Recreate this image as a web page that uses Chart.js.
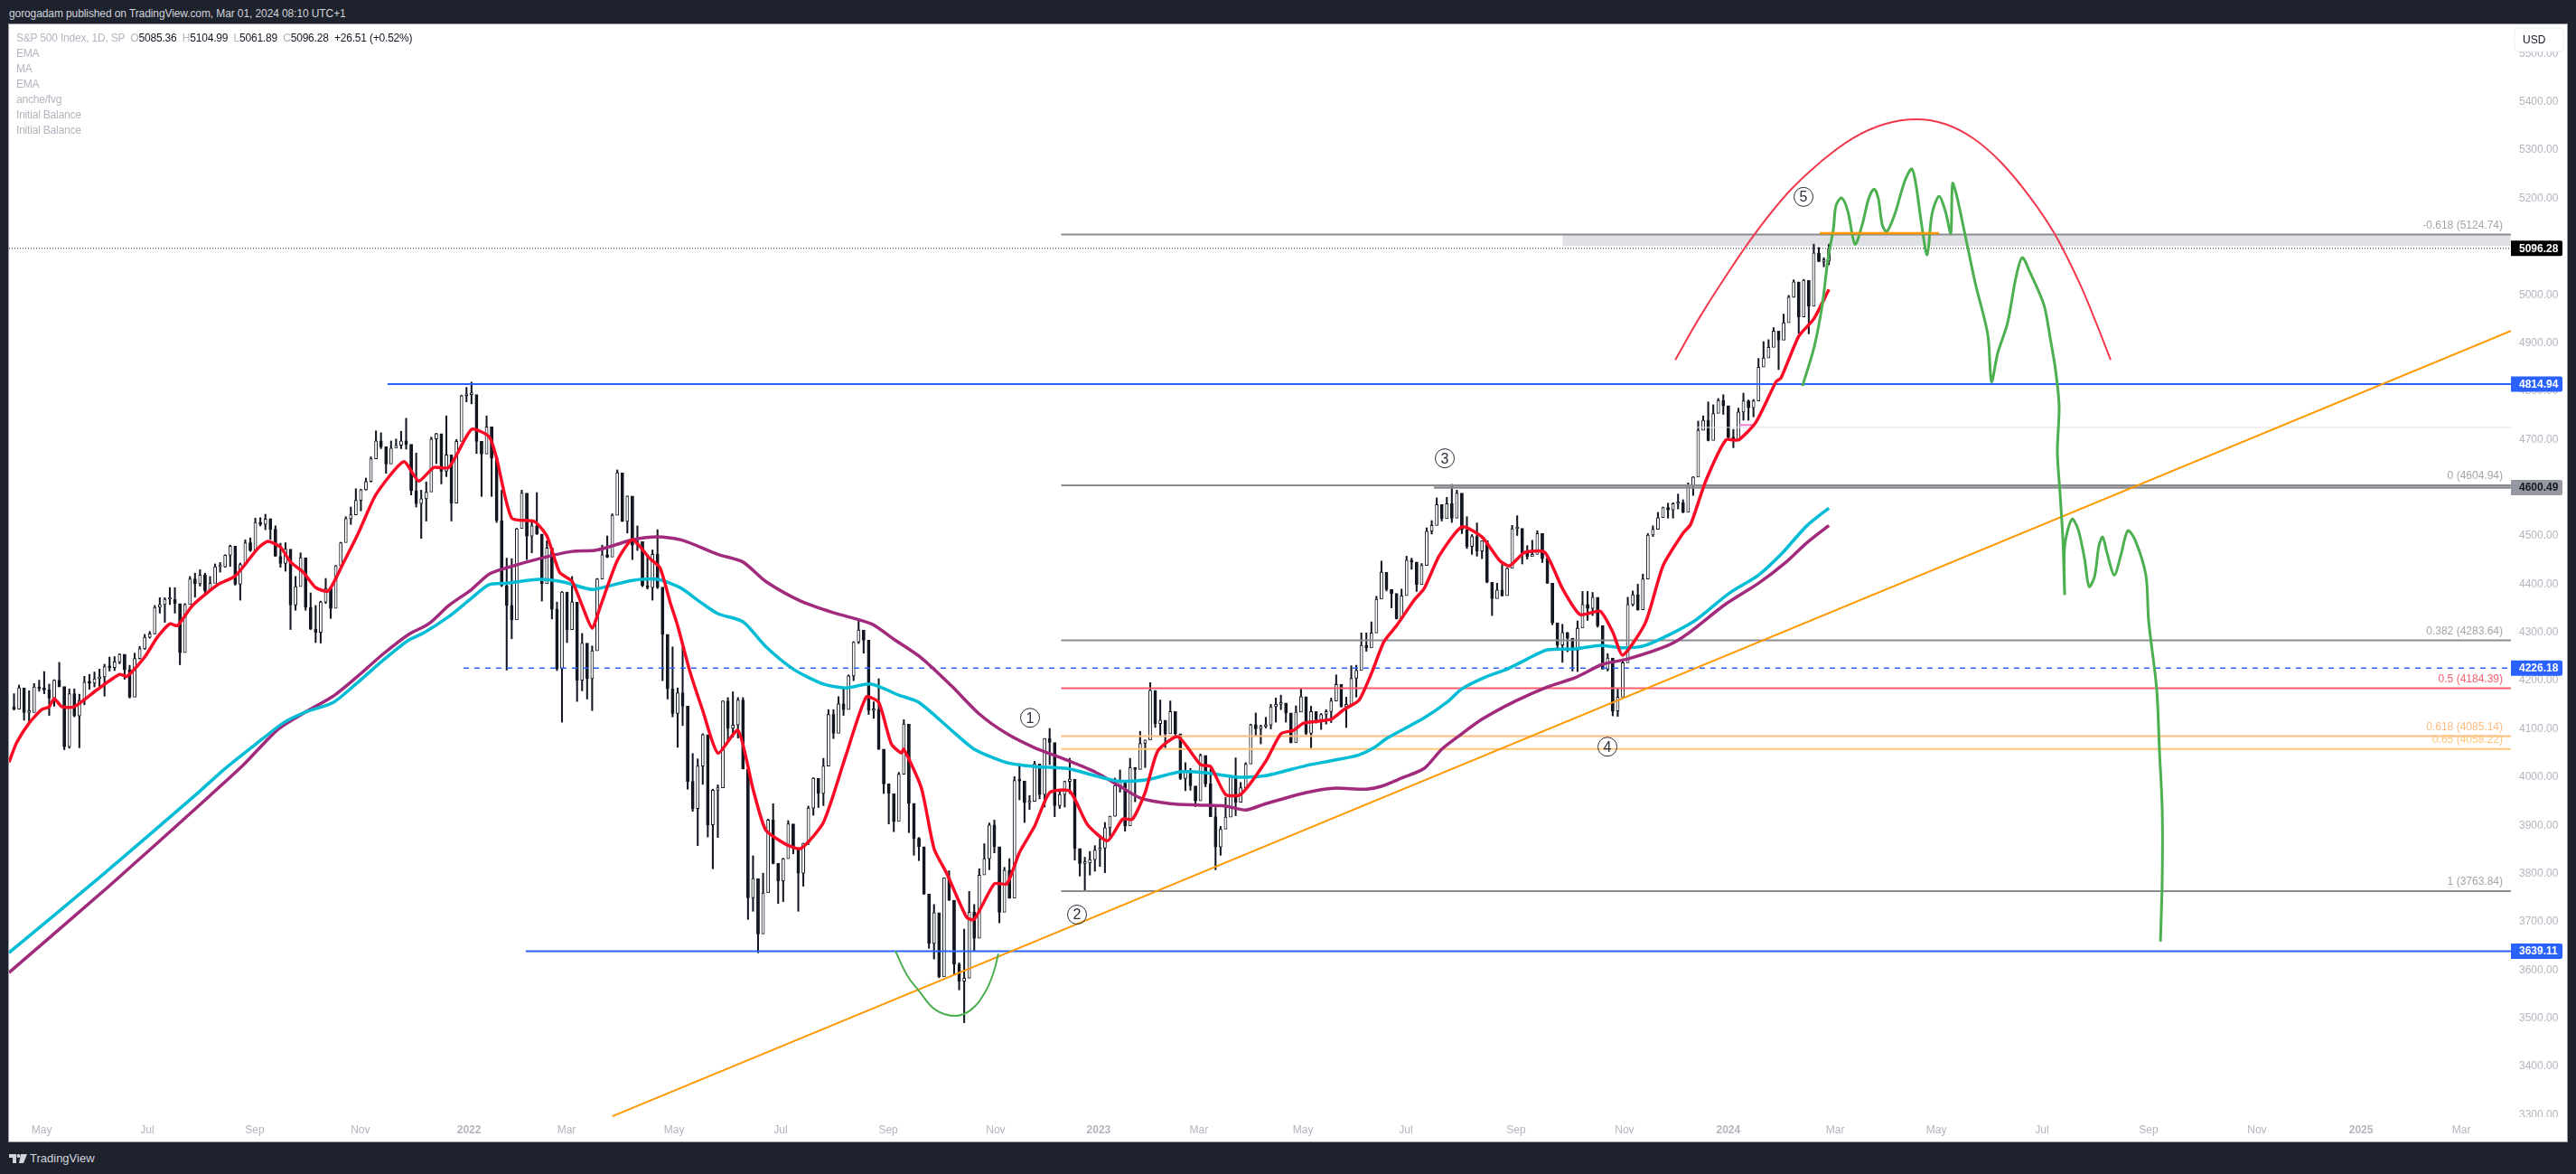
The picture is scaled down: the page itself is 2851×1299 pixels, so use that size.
<!DOCTYPE html>
<html>
<head>
<meta charset="utf-8">
<title>S&amp;P 500 Index, 1D</title>
<script src="https://cdn.jsdelivr.net/npm/chart.js@4/dist/chart.umd.min.js"></script>
<style>
html, body { margin: 0; padding: 0; background: #1e222d; overflow: hidden; }
body { width: 2851px; height: 1299px; position: relative; font-family: "Liberation Sans", sans-serif; }
#head { position: absolute; left: 10px; top: 8px; font-size: 12px; line-height: 14px; color: #d1d4dc; letter-spacing: -.1px; white-space: pre; }
#frame { position: absolute; left: 10px; top: 27px; width: 2831px; height: 1236px; background: #fff; outline: 1px solid #9598a1; }
#legend { position: absolute; left: 18px; top: 34px; font-size: 12px; line-height: 17px; color: #b2b5be; letter-spacing: -.2px; white-space: pre; }
#legend b { font-weight: normal; color: #131722; }
#foot { position: absolute; left: 10px; top: 1275px; height: 14px; color: #d1d4dc; font-size: 13px; line-height: 14px; }
#foot svg { position: absolute; left: 0; top: 2px; }
#foot span { position: absolute; left: 23px; top: 0; }
</style>
</head>
<body>
<div id="head">gorogadam published on TradingView.com, Mar 01, 2024 08:10 UTC+1</div>
<div id="frame"><canvas id="chart" width="2831" height="1236"></canvas></div>
<div id="legend">S&amp;P 500 Index, 1D, SP  O<b>5085.36</b>  H<b>5104.99</b>  L<b>5061.89</b>  C<b>5096.28</b>  <b>+26.51 (+0.52%)</b>
EMA
MA
EMA
anche/fvg
Initial Balance
Initial Balance</div>
<div id="foot"><svg width="20" height="10" viewBox="0 0 20 10"><path d="M0 0h8v10H4V4H0z M13 0h7l-4 10h-5z" fill="#d1d4dc"/><circle cx="10.5" cy="2" r="2" fill="#d1d4dc"/></svg><span>TradingView</span></div>

<script>
// x values are sessions counted from the first session of 2021
const xTickValues = [82,124,166.8,208.8,252,290.8,333.6,376,418.8,461.5,502.5,542.4,583.8,624.7,668.6,711.7,753,795.5,835.8,877.8,920.2,963.3,1004.7,1044.6];
const xTickLabels = ["May","Jul","Sep","Nov","2022","Mar","May","Jul","Sep","Nov","2023","Mar","May","Jul","Sep","Nov","2024","Mar","May","Jul","Sep","Nov","2025","Mar"];
const yTickValues = [5500,5400,5300,5200,5100,5000,4900,4800,4700,4600,4500,4400,4300,4200,4100,4000,3900,3800,3700,3600,3500,3400,3300];

// candles, one for every second session: high, low, close
const bars2021 = [
[4173,4139,4141],[4191,4142,4185],[4180,4118,4134],[4179,4115,4134],[4194,4147,4187],[4201,4178,4183],[4219,4173,4181],[4193,4128,4164],[4202,4147,4201],[4238,4187,4188],
[4185,4057,4063],[4183,4060,4173],[4183,4125,4127],[4172,4061,4159],[4209,4150,4197],[4213,4182,4195],[4218,4187,4204],[4224,4187,4208],[4234,4168,4229],[4249,4220,4227],
[4250,4221,4239],[4256,4235,4255],[4252,4203,4223],[4232,4164,4166],[4257,4168,4246],[4271,4245,4266],[4296,4265,4290],[4302,4288,4297],[4356,4297,4352],[4372,4340,4358],
[4372,4321,4369],[4393,4358,4369],[4393,4340,4360],[4330,4233,4258],[4360,4265,4358],[4416,4360,4411],[4423,4373,4401],[4430,4396,4419],[4423,4381,4387],[4416,4400,4402],
[4442,4405,4436],[4445,4425,4436],[4461,4435,4460],[4481,4437,4479],[4478,4398,4400],[4444,4367,4441],[4492,4440,4486],[4496,4468,4470],[4537,4474,4528],[4538,4521,4524],
[4545,4513,4535],[4536,4493,4514],[4521,4458,4458],[4485,4435,4443],[4486,4427,4473],[4427,4306,4357],[4416,4346,4395],[4465,4406,4455],[4445,4346,4352],[4382,4306,4307],
[4356,4279,4300],[4365,4278,4363],[4412,4360,4391],[4375,4329,4350],[4439,4364,4438],[4487,4447,4486],[4540,4489,4536],[4560,4524,4544],[4598,4550,4574],[4597,4552,4596],
[4620,4595,4613],[4664,4612,4660],[4718,4662,4697],[4714,4681,4685],[4668,4630,4649],[4697,4660,4682],[4701,4684,4688],[4717,4681,4697],[4744,4680,4690],[4686,4585,4594],
[4672,4560,4567],[4595,4495,4577],[4612,4531,4591],[4705,4608,4701],[4713,4650,4712],[4690,4608,4634],[4749,4623,4668],[4617,4531,4568],[4700,4592,4696],[4792,4725,4791],
[4808,4778,4793]
];
const bars2022 = [
[4819,4774,4793],[4725,4671,4696],[4673,4582,4670],[4749,4700,4726],[4667,4582,4662],[4603,4528,4532],[4595,4395,4397],[4454,4222,4356],[4453,4287,4326],[4516,4373,4515],
[4595,4544,4589],[4540,4451,4500],[4531,4465,4521],[4590,4503,4504],[4489,4365,4401],[4490,4429,4475],[4395,4328,4348],[4363,4221,4225],[4385,4114,4384],[4375,4279,4306],
[4416,4345,4363],[4329,4157,4201],[4298,4179,4278],[4259,4162,4204],[4272,4138,4262],[4412,4330,4411],[4481,4424,4461],[4500,4455,4456],[4546,4483,4543],[4637,4567,4631],
[4603,4530,4530],[4583,4506,4583],[4512,4451,4481],[4521,4470,4488],[4471,4395,4397],[4460,4390,4393],[4471,4367,4462],[4513,4391,4394],[4296,4200,4296],[4240,4162,4183],
[4270,4125,4132],[4185,4062,4175],[4270,4107,4147],[4082,3975,3991],[4049,3929,3935],[4038,3858,4023],[4090,3985,4088],[3945,3876,3901],[3975,3810,3973],[3984,3875,3978],
[4158,4018,4158],[4165,4073,4101],[4177,4083,4108],[4165,4081,4160],[4165,4017,4017],[3838,3705,3750],[3837,3722,3790],[3708,3636,3675],[3801,3705,3760],[3913,3810,3911],
[3945,3820,3821],[3818,3738,3785],[3832,3742,3831],[3910,3845,3903],[3890,3841,3854],[3838,3722,3801],[3863,3774,3863],[3940,3860,3936],[3999,3921,3998],[3975,3937,3966],
[4039,3941,4023],[4140,4079,4130],[4140,4080,4091],[4167,4128,4152],[4186,4128,4140],[4212,4142,4210],[4281,4200,4280],[4325,4277,4305],[4302,4257,4284],[4196,4130,4138],
[4156,4122,4140],[4204,4057,4058],[4043,3966,3986],[3980,3903,3966],[3940,3887,3908],[4010,3930,4006],[4119,4083,4110],[3986,3885,3946],[3916,3838,3873],[3875,3827,3856],
[3853,3757,3758],[3715,3645,3655],[3736,3623,3719],[3700,3584,3586],[3791,3647,3791],[3806,3744,3745],[3667,3590,3612],[3615,3559,3577],[3685,3491,3583],[3763,3648,3720],
[3736,3640,3666],[3810,3700,3797],[3862,3810,3831],[3905,3808,3901],[3911,3843,3856],[3751,3698,3720],[3813,3751,3807],[3831,3749,3749],[4001,3944,3993],[4028,3953,3992],
[3967,3906,3947],[3962,3933,3950],[4033,3998,4028],[4012,3955,3964],[4080,3938,4080],[4101,4026,4072],[4001,3918,3941],[3974,3935,3964],[3992,3938,3991],[4039,3966,3996],
[3890,3828,3852],[3839,3795,3821],[3834,3764,3822],[3846,3797,3829],[3858,3805,3849]
];
const bars2023 = [
[3873,3815,3853],[3906,3802,3895],[3919,3877,3919],[3998,3919,3983],[4015,3969,3990],[3941,3888,3899],[4039,3972,4020],[4020,3949,4016],[4095,4017,4070],[4077,4020,4077],
[4196,4108,4180],[4150,4103,4111],[4160,4086,4118],[4095,4061,4090],[4158,4096,4136],[4136,4086,4090],[4050,3995,3997],[4030,3972,4012],[4018,3973,3982],[3972,3939,3951],
[4048,3975,4045],[4040,3980,3986],[4017,3918,3918],[3937,3808,3855],[3898,3838,3892],[3958,3901,3917],[4002,3943,4002],[4040,3920,3948],[3989,3950,3978],[4030,3999,4027],
[4110,4056,4109],[4133,4087,4100],[4108,4069,4105],[4124,4102,4108],[4151,4100,4146],[4164,4114,4151],[4170,4140,4154],[4138,4114,4133],[4118,4071,4071],[4148,4087,4135],
[4184,4162,4167],[4149,4088,4091],[4147,4061,4136],[4130,4112,4119],[4132,4099,4130],[4140,4110,4136],[4164,4113,4158],[4212,4176,4192],[4186,4145,4146],[4166,4103,4151],
[4231,4192,4205],[4232,4166,4221],[4299,4263,4273],[4299,4261,4268],[4322,4292,4299],[4375,4349,4369],[4448,4371,4425],[4421,4386,4389],[4382,4351,4381],[4362,4328,4328],
[4390,4360,4376],[4458,4414,4450],[4454,4431,4446],[4440,4385,4399],[4443,4408,4439],[4517,4489,4510],[4532,4504,4522],[4579,4557,4565],[4555,4531,4536],[4580,4553,4567],
[4607,4528,4537],[4595,4574,4589],[4551,4505,4513],[4540,4474,4478],[4503,4462,4499],[4527,4458,4469],[4490,4453,4490],[4449,4403,4404],[4381,4335,4370],[4402,4382,4388],
[4441,4375,4376],[4434,4407,4433],[4522,4479,4515],[4542,4501,4516],[4491,4442,4465],[4480,4452,4457],[4491,4461,4462],[4511,4478,4505],[4467,4445,4453],[4461,4402,4402],
[4357,4316,4320],[4315,4263,4274],[4317,4238,4300],[4300,4260,4288],[4264,4220,4263],[4324,4219,4309],[4385,4339,4358],[4385,4325,4350],[4383,4335,4373],[4367,4311,4314],
[4270,4224,4224],[4256,4220,4247],[4182,4127,4137],[4183,4126,4166],[4245,4187,4237],[4373,4317,4358],[4386,4355,4378],[4400,4346,4347],[4421,4394,4411],[4505,4483,4502],
[4521,4499,4514],[4549,4527,4538],[4560,4552,4559],[4568,4537,4554],[4569,4537,4567],[4587,4556,4569],[4575,4548,4549],[4610,4574,4604],[4623,4584,4622],[4738,4705,4719],
[4749,4725,4740],[4778,4697,4698],[4772,4736,4754],[4785,4765,4781],[4793,4752,4770]
];
const bars2024 = [
[4729,4699,4705],[4721,4683,4697],[4765,4730,4757],[4796,4740,4780],[4782,4740,4766],[4783,4747,4780],[4868,4840,4850],[4903,4865,4869],[4907,4881,4891],[4932,4917,4925],
[4907,4845,4906],[4960,4918,4942],[4999,4958,4995],[5031,4995,5027],[4970,4920,4954],[5032,4999,5030],[4998,4919,4976],[5105,5040,5087],[5098,5069,5069],[5077,5058,5070],
[5105,5062,5096]
];
const firstOpen = 4146;
const lastBarX = 793;

// moving averages: [session, price]
const emaRed = [[69,4031],[72,4071],[77,4112],[82,4140],[85,4146],[87,4163],[90,4146],[95,4146],[104,4181],[113,4213],[116,4209],[123,4249],[128,4290],[133,4318],[136,4314],[142,4356],[152,4399],[159,4417],[168,4474],[172,4489],[177,4477],[181,4446],[186,4425],[191,4393],[196,4386],[202,4444],[208,4506],[215,4586],[226,4654],[232,4614],[238,4642],[244,4642],[253,4721],[260,4706],[263,4661],[269,4537],[278,4530],[283,4500],[288,4425],[293,4406],[297,4356],[301,4309],[304,4350],[311,4449],[317,4492],[324,4453],[328,4434],[332,4363],[335,4314],[340,4217],[345,4138],[351,4050],[359,4097],[365,3975],[370,3891],[378,3861],[384,3852],[393,3906],[402,4046],[410,4166],[415,4155],[420,4069],[424,4050],[425,4058],[432,3977],[437,3852],[442,3801],[450,3709],[453,3705],[461,3779],[466,3779],[471,3844],[477,3898],[483,3968],[491,3971],[498,3902],[506,3868],[512,3913],[516,3913],[521,3968],[526,4054],[534,4084],[543,4026],[547,4022],[553,3964],[559,3964],[569,4033],[575,4090],[580,4097],[584,4112],[595,4120],[600,4140],[606,4159],[611,4215],[616,4281],[621,4314],[628,4367],[632,4391],[638,4459],[647,4519],[655,4498],[662,4449],[666,4438],[672,4466],[680,4466],[687,4391],[694,4337],[702,4344],[707,4301],[711,4253],[720,4320],[727,4438],[735,4506],[738,4524],[744,4614],[752,4699],[757,4699],[764,4736],[772,4820],[774,4828],[781,4914],[787,4950],[793,5011]];
const maCyan = [[69,3636],[105,3792],[143,3962],[155,4018],[170,4080],[178,4112],[187,4135],[198,4155],[207,4193],[218,4243],[228,4284],[234,4299],[244,4333],[253,4371],[260,4399],[267,4402],[280,4410],[290,4404],[301,4389],[308,4397],[317,4408],[327,4410],[336,4393],[344,4363],[351,4339],[361,4322],[370,4271],[381,4224],[393,4193],[402,4185],[412,4193],[423,4170],[431,4155],[444,4097],[453,4058],[466,4030],[477,4022],[490,4018],[501,4003],[510,3992],[521,3994],[535,4011],[545,4009],[558,4000],[569,4003],[585,4024],[596,4035],[606,4046],[612,4061],[617,4080],[632,4123],[641,4155],[647,4183],[657,4209],[665,4224],[673,4245],[681,4264],[692,4266],[702,4273],[711,4268],[720,4273],[739,4322],[753,4380],[765,4419],[774,4462],[784,4520],[793,4558]];
const emaPurple = [[69,3595],[109,3775],[149,3962],[162,4024],[176,4099],[187,4135],[198,4168],[207,4206],[218,4256],[228,4296],[236,4318],[244,4356],[253,4389],[260,4421],[267,4434],[280,4453],[293,4468],[302,4470],[310,4481],[317,4492],[327,4498],[337,4491],[351,4462],[361,4446],[370,4406],[384,4365],[397,4341],[412,4318],[421,4286],[432,4247],[444,4189],[455,4131],[466,4090],[477,4061],[490,4035],[501,4011],[511,3981],[519,3957],[531,3945],[542,3942],[553,3940],[561,3932],[569,3945],[585,3968],[596,3977],[609,3975],[615,3981],[623,3998],[632,4018],[639,4058],[647,4090],[655,4120],[668,4157],[681,4187],[692,4206],[703,4234],[713,4245],[729,4273],[737,4298],[752,4359],[765,4402],[776,4446],[784,4485],[793,4522]];

// hand drawn lines
const forecastGreen = [[782.5,4811],[787.2,4893],[790.4,4980],[792.6,5073],[794.8,5137],[795.8,5184],[798,5201],[800.5,5174],[803.4,5105],[806.3,5146],[808.8,5199],[811,5219],[812.7,5199],[814.2,5146],[816,5131],[819.2,5167],[823.2,5236],[826,5261],[827.8,5223],[829.6,5156],[832.1,5083],[834,5167],[836.8,5204],[839.3,5174],[841.5,5128],[842.2,5231],[844,5202],[847.2,5124],[851.2,5025],[856.2,4918],[857.7,4820],[860.2,4880],[864.1,4942],[867.4,5036],[869.9,5077],[872.8,5049],[878.5,4980],[881,4912],[883.2,4843],[884.6,4768],[883.9,4674],[885,4586],[886.1,4492],[886.8,4380],[886.8,4479],[889.7,4535],[892.2,4513],[894.7,4453],[896.5,4395],[898.7,4416],[900.4,4479],[901.9,4498],[903.6,4466],[906.5,4419],[909.1,4459],[911.9,4511],[914.8,4492],[919.1,4419],[920.2,4324],[923.4,4183],[924.5,4056],[925.6,3934],[925.6,3786],[924.9,3659]];
const arcRed = [[731.9,4865],[741.2,4950],[750.9,5030],[763.8,5128],[776.8,5212],[789.4,5274],[802.3,5324],[815.2,5354],[827.8,5364],[839.3,5354],[850.5,5324],[861.6,5274],[872.8,5204],[882.5,5129],[892.2,5030],[898.7,4950],[905.1,4865]];
const arcGreen = [[421.6,3640],[426.3,3589],[431,3557],[437.5,3518],[445.4,3505],[451.8,3518],[457.6,3557],[460.8,3597],[462.6,3634]];
const trendOrange = [[309,3297],[1064.3,4925]];
const topOrange = [[789.4,5128],[836.8,5128]];
const pinkLevel = [[757.4,4730],[763.8,4730]];
const greyLevel = [[740.1,4725],[1064.3,4725]];
const greyZone = [[687,5124.74],[1064.3,5124.74]];
const greyZoneLow = 5101;

// levels with an end label on the price axis
const blueHigh = 4814.94, blueLow = 3639.11, blueDash = 4226.18, greyPrice = 4600.49, lastPrice = 5096.28;
const blueHighFrom = 219.6, blueLowFrom = 274.6, blueDashFrom = 249.8, greyPriceFrom = 635.9;

// fib retracement
const fibFrom = 487.6, fibTo = 1064.3;
const fibLevels = ["-0.618","0","0.382","0.5","0.618","0.65","1"];
const fibPrices = [5124.74,4604.94,4283.64,4184.39,4085.14,4058.22,3763.84];
const fibColors = ["#8a8b8f","#8a8b8f","#8a8b8f","#f7606c","#ffbb80","#ffc578","#8a8b8f"];
const fibTextColors = ["#a3a5ab","#a3a5ab","#a3a5ab","#f7606c","#ffbb80","#ffc578","#a3a5ab"];

// wave marks
const waveNames = ["1","2","3","4","5"];
const waveX = [475.2,493.9,640.2,704.9,782.9];
const waveY = [4123,3715,4661,4063,5203];

const FONT = '"Liberation Sans", sans-serif';

const allBars = bars2021.concat(bars2022, bars2023, bars2024);
const barX = allBars.map((b, i) => lastBarX - 2 * (allBars.length - 1 - i));
const barOpen = allBars.map((b, i) => i ? allBars[i - 1][2] : firstOpen);

function pts(list) {
    return list.map(p => ({x: p[0], y: p[1]}));
}

function lineSet(list, color, width, order, extra) {
    return Object.assign({
        type: "line",
        data: pts(list),
        borderColor: color,
        borderWidth: width,
        pointRadius: 0,
        tension: 0,
        fill: false,
        order: order,
    }, extra || {});
}

const datasets = [];

// grey band under the top level
datasets.push(lineSet(greyZone, "rgba(0,0,0,0)", 0, 40, {fill: {value: greyZoneLow}, backgroundColor: "#dfe1e4"}));

// candles
datasets.push({
    type: "bar",
    data: allBars.map((b, i) => ({x: barX[i], y: [b[1], b[0]]})),
    backgroundColor: "#131722",
    barThickness: 1.4,
    grouped: false,
    order: 31,
});
datasets.push({
    type: "bar",
    data: allBars.map((b, i) => ({x: barX[i], y: [barOpen[i], b[2]]})),
    backgroundColor: allBars.map((b, i) => b[2] >= barOpen[i] ? "#ffffff" : "#131722"),
    borderColor: "#131722",
    borderWidth: 1,
    borderSkipped: false,
    barThickness: 3.2,
    minBarLength: 2,
    grouped: false,
    order: 30,
});

// horizontal levels
datasets.push(lineSet(greyLevel, "#e0e3eb", 1, 28));
fibPrices.forEach((p, i) => {
    datasets.push(lineSet([[fibFrom, p], [fibTo, p]], fibColors[i], 2, 27));
});
datasets.push(lineSet([[greyPriceFrom, greyPrice], [fibTo, greyPrice]], "#8a8b8f", 2.5, 26));
datasets.push(lineSet([[blueDashFrom, blueDash], [fibTo, blueDash]], "#2962ff", 1.4, 26, {borderDash: [6, 6]}));
datasets.push(lineSet([[69.02, lastPrice], [fibTo, lastPrice]], "#131722", 1, 26, {borderDash: [1, 2]}));
datasets.push(lineSet([[blueHighFrom, blueHigh], [fibTo, blueHigh]], "#2962ff", 2, 25));
datasets.push(lineSet([[blueLowFrom, blueLow], [fibTo, blueLow]], "#2962ff", 2, 25));
datasets.push(lineSet(pinkLevel, "#ee82d8", 2, 24));

// averages
datasets.push(lineSet(emaPurple, "#a12a7c", 3.5, 12, {tension: 0.25}));
datasets.push(lineSet(maCyan, "#00bcd4", 3.5, 11, {tension: 0.25}));
datasets.push(lineSet(emaRed, "#fb0a26", 3.5, 10, {tension: 0.2}));

// drawings
datasets.push(lineSet(trendOrange, "#ff9800", 2, 9));
datasets.push(lineSet(topOrange, "#ff9800", 2.5, 5));
datasets.push(lineSet(arcRed, "#f2384c", 2, 8, {tension: 0.4}));
datasets.push(lineSet(arcGreen, "#4caf50", 2, 8, {tension: 0.4}));
datasets.push(lineSet(forecastGreen, "#4caf50", 3, 6, {tension: 0.3}));

function axisLabel(ctx, scale, price, bg, fg) {
    const y = scale.getPixelForValue(price);
    const x = scale.right - 62;
    ctx.fillStyle = bg;
    ctx.beginPath();
    ctx.roundRect(x, y - 8.5, 57, 17, [0, 2, 2, 0]);
    ctx.fill();
    ctx.fillStyle = fg;
    ctx.font = "bold 12px " + FONT;
    ctx.textAlign = "left";
    ctx.textBaseline = "middle";
    ctx.fillText(price.toFixed(2), x + 9, y + 0.5);
}

const marksPlugin = {
    id: "marks",
    afterDraw(chart) {
        const ctx = chart.ctx;
        const xs = chart.scales.x;
        const ys = chart.scales.y;
        ctx.save();

        // fib text above each line
        ctx.font = "12px " + FONT;
        ctx.textAlign = "right";
        ctx.textBaseline = "middle";
        fibPrices.forEach((p, i) => {
            ctx.fillStyle = fibTextColors[i];
            ctx.fillText(fibLevels[i] + " (" + p.toFixed(2) + ")", xs.right - 9, ys.getPixelForValue(p) - 10);
        });

        // wave circles
        waveNames.forEach((n, i) => {
            const cx = xs.getPixelForValue(waveX[i]);
            const cy = ys.getPixelForValue(waveY[i]);
            ctx.beginPath();
            ctx.arc(cx, cy, 10.5, 0, Math.PI * 2);
            ctx.strokeStyle = "#2a2e39";
            ctx.lineWidth = 1;
            ctx.stroke();
            ctx.fillStyle = "#2a2e39";
            ctx.font = "16px " + FONT;
            ctx.textAlign = "center";
            ctx.fillText(n, cx, cy + 1);
        });

        // keep the price labels inside the pane
        ctx.fillStyle = "#fff";
        ctx.fillRect(xs.right, ys.bottom, 62, 27);

        axisLabel(ctx, ys, blueHigh, "#2962ff", "#fff");
        axisLabel(ctx, ys, greyPrice, "#9598a1", "#131722");
        axisLabel(ctx, ys, blueDash, "#2962ff", "#fff");
        axisLabel(ctx, ys, blueLow, "#2962ff", "#fff");
        axisLabel(ctx, ys, lastPrice, "#000000", "#fff");

        // currency button
        ctx.beginPath();
        ctx.roundRect(xs.right + 4, 4, 54, 26, 4);
        ctx.fillStyle = "#fff";
        ctx.fill();
        ctx.strokeStyle = "#eceef2";
        ctx.lineWidth = 1;
        ctx.stroke();
        ctx.fillStyle = "#131722";
        ctx.font = "12px " + FONT;
        ctx.textAlign = "left";
        ctx.fillText("USD", xs.right + 13, 18);
        ctx.restore();
    },
};

new Chart(document.querySelector("#chart"), {
    data: {datasets: datasets},
    plugins: [marksPlugin],
    options: {
        responsive: false,
        animation: false,
        events: [],
        layout: {padding: 0},
        plugins: {legend: {display: false}, tooltip: {enabled: false}, title: {display: false}},
        scales: {
            x: {
                type: "linear",
                offset: false,
                min: 69.02,
                max: 1064.34,
                grid: {display: false, drawTicks: false},
                border: {display: false},
                afterBuildTicks(scale) {
                    scale.ticks = xTickValues.map(v => ({value: v}));
                },
                afterFit(scale) {
                    scale.height = 27;
                    scale.paddingLeft = 0;
                    scale.paddingRight = 0;
                },
                ticks: {
                    autoSkip: false,
                    maxRotation: 0,
                    padding: 7,
                    color: "#b2b5be",
                    font: ctx => {
                        const label = xTickLabels[ctx.index] || "";
                        return {family: FONT, size: 12, weight: label.length === 4 ? "bold" : "normal"};
                    },
                    callback(value, index) {
                        return xTickLabels[index];
                    },
                },
            },
            y: {
                type: "linear",
                position: "right",
                min: 3295.3,
                max: 5560.6,
                grid: {display: false, drawTicks: false},
                border: {display: false},
                afterBuildTicks(scale) {
                    scale.ticks = yTickValues.map(v => ({value: v}));
                },
                afterFit(scale) {
                    scale.width = 62;
                    scale.paddingTop = 0;
                    scale.paddingBottom = 0;
                },
                ticks: {
                    autoSkip: false,
                    padding: 9,
                    color: "#b2b5be",
                    font: {family: FONT, size: 12},
                    callback(value) {
                        return Number(value).toFixed(2);
                    },
                },
            },
        },
    },
});
</script>
</body>
</html>
